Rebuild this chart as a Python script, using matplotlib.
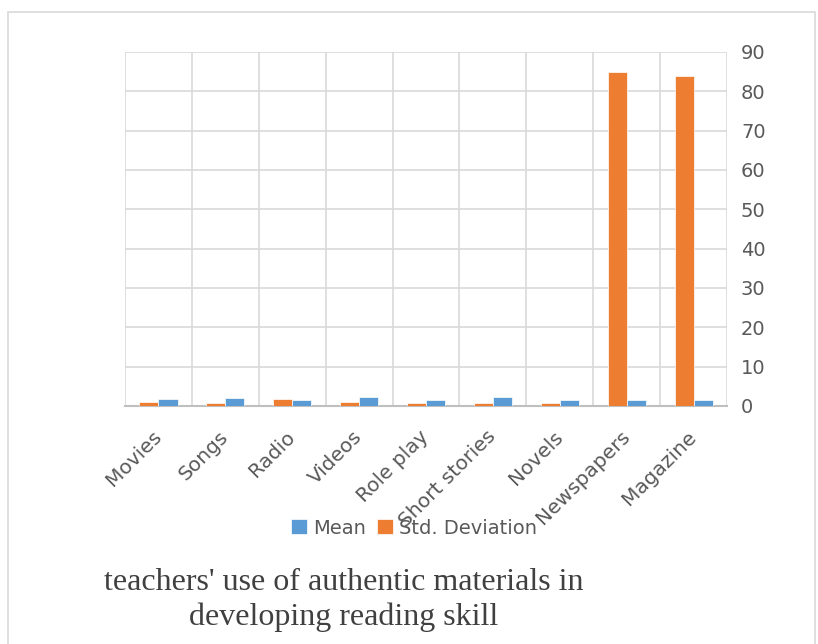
import numpy as np
import matplotlib.pyplot as plt
from matplotlib.patches import Rectangle

# reading-material survey results
categories = ["Movies", "Songs", "Radio", "Videos", "Role play",
              "Short stories", "Novels", "Newspapers", "Magazine"]
mean_vals = [1.8, 2.1, 1.4, 2.2, 1.6, 2.3, 1.55, 1.4, 1.4]
std_vals = [0.95, 0.85, 1.7, 0.95, 0.85, 0.78, 0.8, 85, 84]
y_ticks = [0, 10, 20, 30, 40, 50, 60, 70, 80, 90]

blue = "#5B9BD5"
orange = "#ED7D31"
grid_col = "#D9D9D9"
text_col = "#595959"

fig = plt.figure(figsize=(8.18, 6.44), dpi=100)
ax = fig.add_axes([0.1528, 0.3696, 0.736, 0.5497])

x = np.arange(len(categories))
w = 0.285
ax.bar(x - w / 2, std_vals, w, color=orange, edgecolor="white", linewidth=0.5,
       label="Std. Deviation", zorder=3)
ax.bar(x + w / 2, mean_vals, w, color=blue, edgecolor="white", linewidth=0.5,
       label="Mean", zorder=3)

ax.set_xlim(-0.5, len(categories) - 0.5)
ax.set_ylim(0, 90)
ax.set_yticks(y_ticks)
ax.yaxis.tick_right()
ax.tick_params(axis="y", length=0, pad=10, labelsize=14, labelcolor=text_col)
ax.set_xticks(x)
ax.set_xticklabels(categories, rotation=45, ha="right", va="center",
                   rotation_mode="anchor", fontsize=14.5, color=text_col)
ax.tick_params(axis="x", length=0, pad=20)
ax.set_xticks(np.arange(-0.5, len(categories)), minor=True)
ax.tick_params(axis="x", which="minor", length=0)

ax.grid(axis="y", color=grid_col, linewidth=1.2, zorder=0)
ax.grid(axis="x", which="minor", color=grid_col, linewidth=1.2, zorder=0)
ax.grid(axis="x", which="major", visible=False)
for side in ["top", "left", "right"]:
    ax.spines[side].set_visible(False)
ax.spines["bottom"].set_color("#BFBFBF")
ax.spines["bottom"].set_linewidth(1.5)

# legend shows Mean first
handles, labels = ax.get_legend_handles_labels()
fig.legend(handles[::-1], labels[::-1], loc="center", bbox_to_anchor=(0.506, 0.18),
           ncol=2, frameon=False, fontsize=14, handlelength=0.8, handleheight=0.8,
           columnspacing=0.6, handletextpad=0.3, labelcolor=text_col)

fig.text(0.42, 0.068, "teachers' use of authentic materials in\ndeveloping reading skill",
         ha="center", va="center", family="Liberation Serif", fontsize=23,
         color="#404040", linespacing=1.22)

# chart border
fig.patches.append(Rectangle((0.0098, -0.05), 0.987, 1.031, transform=fig.transFigure,
                             fill=False, edgecolor="#D9D9D9", linewidth=1.2))

fig.savefig("out.png", dpi=100)
